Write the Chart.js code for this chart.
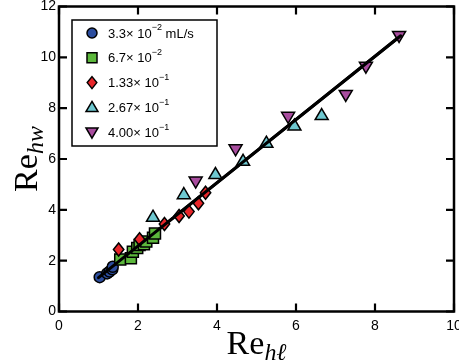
<!DOCTYPE html>
<html>
<head>
<meta charset="utf-8">
<script src="https://cdn.jsdelivr.net/npm/chart.js@4/dist/chart.umd.min.js"></script>
<style>
  html, body { margin: 0; padding: 0; background: #fff; }
  #wrap { width: 459px; height: 360px; }
</style>
</head>
<body>
<div id="wrap"><canvas id="chart"></canvas></div>
<script>
// data: [Re_hl, Re_hw]
var flow1 = [[1.03, 1.35], [1.22, 1.5], [1.28, 1.57], [1.35, 1.66], [1.36, 1.76]];
var flow2 = [[1.55, 2.05], [1.82, 2.1], [1.87, 2.35], [1.98, 2.5], [2.04, 2.62],
             [2.15, 2.65], [2.21, 2.75], [2.38, 2.9], [2.43, 3.07]];
var flow3 = [[1.51, 2.44], [2.04, 2.84], [2.67, 3.44], [3.04, 3.76], [3.29, 3.93],
             [3.53, 4.26], [3.71, 4.67]];
var flow4 = [[2.38, 3.73], [3.16, 4.62], [3.96, 5.41], [4.66, 5.93], [5.25, 6.64],
             [5.96, 7.32], [6.65, 7.73]];
var flow5 = [[3.46, 5.11], [4.47, 6.38], [5.8, 7.66], [7.26, 8.52], [7.77, 9.63], [8.61, 10.84]];
var fitX = [1.0, 8.65];
var fitY = [1.33, 10.85];

var xTicks = [0, 2, 4, 6, 8, 10];
var yTicks = [0, 2, 4, 6, 8, 10, 12];

// legend text: mantissa, exponent, unit
var legendBase = ['3.3\u00d7 10', '6.7\u00d7 10', '1.33\u00d7 10', '2.67\u00d7 10', '4.00\u00d7 10'];
var legendExp = ['\u22122', '\u22122', '\u22121', '\u22121', '\u22121'];
var legendUnit = [' mL/s', '', '', '', ''];

function pts(a) { return a.map(function (p) { return { x: p[0], y: p[1] }; }); }

var styles = [
  { shape: 'circle', color: '#2c4d9e', r: 5.5 },
  { shape: 'rect', color: '#5cb83c', r: 5.5 },
  { shape: 'rectRot', color: '#e8262a', r: 6.5 },
  { shape: 'triangle', color: '#6ec8d0', r: 6.5 },
  { shape: 'triangleDown', color: '#a84c9e', r: 6.5 }
];

function mark(ctx, s, x, y) {
  var r = s.r;
  ctx.save();
  ctx.fillStyle = s.color;
  ctx.strokeStyle = '#000';
  ctx.lineWidth = 1.5;
  ctx.beginPath();
  if (s.shape === 'circle') {
    ctx.arc(x, y, r, 0, Math.PI * 2);
  } else if (s.shape === 'rect') {
    ctx.rect(x - r, y - r, 2 * r, 2 * r);
  } else if (s.shape === 'rectRot') {
    ctx.moveTo(x, y - r); ctx.lineTo(x + r * 0.8, y); ctx.lineTo(x, y + r); ctx.lineTo(x - r * 0.8, y);
  } else if (s.shape === 'triangle') {
    ctx.moveTo(x, y - r); ctx.lineTo(x + r, y + r * 0.7); ctx.lineTo(x - r, y + r * 0.7);
  } else {
    ctx.moveTo(x, y + r); ctx.lineTo(x + r, y - r * 0.7); ctx.lineTo(x - r, y - r * 0.7);
  }
  ctx.closePath();
  ctx.fill();
  ctx.stroke();
  ctx.restore();
}

var flows = [flow1, flow2, flow3, flow4, flow5];

var datasets = flows.map(function (f, i) {
  return {
    type: 'scatter',
    label: legendBase[i],
    data: pts(f),
    order: 2,
    pointRadius: 0,
    pointHoverRadius: 0,
    _style: styles[i]
  };
});
datasets.push({
  type: 'line',
  label: 'fit',
  data: fitX.map(function (x, i) { return { x: x, y: fitY[i] }; }),
  borderColor: '#000',
  borderWidth: 3,
  pointRadius: 0,
  fill: false,
  order: 1
});

// draws markers (custom shapes), frame, inward ticks, legend and axis titles
var decor = {
  id: 'decor',
  afterDatasetsDraw: function (chart) {
    var ctx = chart.ctx;
    chart.data.datasets.forEach(function (ds, i) {
      if (!ds._style) return;
      var meta = chart.getDatasetMeta(i);
      meta.data.forEach(function (el) { mark(ctx, ds._style, el.x, el.y); });
    });
    // redraw fit line on top
    var lm = chart.getDatasetMeta(datasets.length - 1);
    ctx.save();
    ctx.strokeStyle = '#000';
    ctx.lineWidth = 3;
    ctx.lineCap = 'round';
    ctx.beginPath();
    ctx.moveTo(lm.data[0].x, lm.data[0].y);
    ctx.lineTo(lm.data[1].x, lm.data[1].y);
    ctx.stroke();
    ctx.restore();
  },
  afterDraw: function (chart) {
    var ctx = chart.ctx, a = chart.chartArea;
    var xs = chart.scales.x, ys = chart.scales.y;
    ctx.save();
    ctx.strokeStyle = '#000';
    ctx.lineWidth = 2.5;
    ctx.strokeRect(a.left, a.top, a.right - a.left, a.bottom - a.top);
    ctx.lineWidth = 2.2;
    ctx.beginPath();
    xTicks.forEach(function (v) {
      var px = xs.getPixelForValue(v);
      ctx.moveTo(px, a.bottom); ctx.lineTo(px, a.bottom - 8);
      ctx.moveTo(px, a.top); ctx.lineTo(px, a.top + 8);
    });
    yTicks.forEach(function (v) {
      var py = ys.getPixelForValue(v);
      ctx.moveTo(a.left, py); ctx.lineTo(a.left + 8, py);
      ctx.moveTo(a.right, py); ctx.lineTo(a.right - 8, py);
    });
    ctx.stroke();

    // legend box
    var bx = 72, by = 20, bw = 145, bh = 126;
    ctx.fillStyle = '#fff';
    ctx.fillRect(bx, by, bw, bh);
    ctx.lineWidth = 1.5;
    ctx.strokeRect(bx, by, bw, bh);
    for (var i = 0; i < 5; i++) {
      var y = 33 + i * 24.8;
      var s = Object.assign({}, styles[i], { r: styles[i].r - 0.5 });
      mark(ctx, s, 92, y);
      ctx.fillStyle = '#000';
      ctx.textBaseline = 'middle';
      ctx.textAlign = 'left';
      ctx.font = '13px "Liberation Sans", Arial, sans-serif';
      var tx = 108;
      ctx.fillText(legendBase[i], tx, y + 1);
      tx += ctx.measureText(legendBase[i]).width;
      ctx.font = '9px "Liberation Sans", Arial, sans-serif';
      ctx.fillText(legendExp[i], tx, y - 5);
      tx += ctx.measureText(legendExp[i]).width;
      if (legendUnit[i]) {
        ctx.font = '13px "Liberation Sans", Arial, sans-serif';
        ctx.fillText(legendUnit[i], tx, y + 1);
      }
    }

    // axis titles: Re with italic subscript
    function title(main, sub) {
      ctx.font = '34px "Liberation Serif", "DejaVu Serif", serif';
      var w1 = ctx.measureText(main).width;
      ctx.font = 'italic 24px "Liberation Serif", "DejaVu Serif", serif';
      var w2 = ctx.measureText(sub).width;
      var x0 = -(w1 + w2) / 2;
      ctx.textAlign = 'left';
      ctx.textBaseline = 'alphabetic';
      ctx.fillStyle = '#000';
      ctx.font = '34px "Liberation Serif", "DejaVu Serif", serif';
      ctx.fillText(main, x0, 0);
      ctx.font = 'italic 24px "Liberation Serif", "DejaVu Serif", serif';
      ctx.fillText(sub, x0 + w1, 6);
    }
    ctx.save();
    ctx.translate((a.left + a.right) / 2, 354);
    title('Re', 'h\u2113');
    ctx.restore();
    ctx.save();
    ctx.translate(37, (a.top + a.bottom) / 2);
    ctx.rotate(-Math.PI / 2);
    title('Re', 'hw');
    ctx.restore();
    ctx.restore();
  }
};

var tickFont = { family: '"Liberation Sans", Arial, sans-serif', size: 14 };

new Chart(document.getElementById('chart'), {
  data: { datasets: datasets },
  options: {
    responsive: true,
    maintainAspectRatio: false,
    animation: false,
    layout: { padding: { top: 6.5, right: 5, left: 0, bottom: 0 } },
    plugins: { legend: { display: false }, tooltip: { enabled: false } },
    scales: {
      x: {
        type: 'linear', min: 0, max: 10,
        afterBuildTicks: function (s) { s.ticks = xTicks.map(function (v) { return { value: v }; }); },
        afterFit: function (s) { s.height = 48.5; s.paddingLeft = 0; s.paddingRight = 0; },
        grid: { display: false, drawTicks: false },
        border: { display: false },
        ticks: { font: tickFont, color: '#000', padding: 6, maxRotation: 0 }
      },
      y: {
        type: 'linear', min: 0, max: 12,
        afterBuildTicks: function (s) { s.ticks = yTicks.map(function (v) { return { value: v }; }); },
        afterFit: function (s) { s.width = 59; s.paddingTop = 0; s.paddingBottom = 0; },
        grid: { display: false, drawTicks: false },
        border: { display: false },
        ticks: { font: tickFont, color: '#000', padding: 3 }
      }
    }
  },
  plugins: [decor]
});
</script>
</body>
</html>
